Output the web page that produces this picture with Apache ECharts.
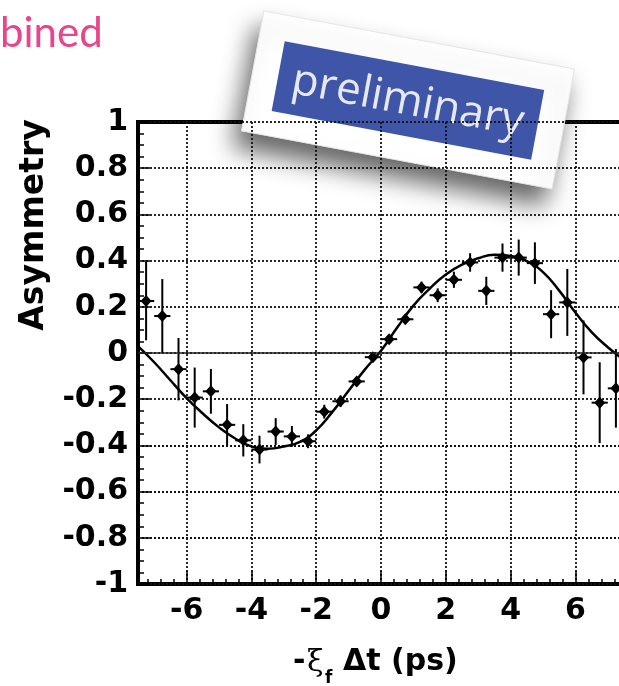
<!DOCTYPE html>
<html>
<head>
<meta charset="utf-8">
<script src="https://cdn.jsdelivr.net/npm/echarts@6/dist/echarts.min.js"></script>
<style>
html,body{margin:0;padding:0;background:#fff;}
#c{width:619px;height:686px;}
</style>
</head>
<body>
<div id="c"></div>
<script>
// ---- data ----
var binCenters = [-7.25,-6.75,-6.25,-5.75,-5.25,-4.75,-4.25,-3.75,-3.25,-2.75,-2.25,-1.75,-1.25,-0.75,-0.25,
                  0.25,0.75,1.25,1.75,2.25,2.75,3.25,3.75,4.25,4.75,5.25,5.75,6.25,6.75,7.25];
var asymValues = [0.225,0.16,-0.07,-0.193,-0.166,-0.311,-0.378,-0.418,-0.34,-0.361,-0.382,-0.254,-0.209,-0.123,-0.018,
                  0.06,0.146,0.284,0.25,0.317,0.392,0.269,0.413,0.413,0.389,0.168,0.219,-0.019,-0.215,-0.153];
var asymErrors = [0.17,0.16,0.135,0.13,0.097,0.09,0.07,0.06,0.058,0.045,0.03,0.03,0.025,0.02,0.02,
                  0.02,0.02,0.025,0.03,0.035,0.04,0.061,0.061,0.078,0.09,0.104,0.145,0.16,0.175,0.17];
var binHalfWidth = 0.25;
var fitX = [-7.5,-7,-6.5,-6,-5.5,-5,-4.5,-4,-3.5,-3,-2.5,-2,-1.5,-1,-0.5,0,0.5,1,1.5,2,2.5,3,3.5,4,4.5,5,5.5,6,6.5,7,7.5];
var fitY = [0.03,-0.04,-0.118,-0.195,-0.262,-0.322,-0.37,-0.404,-0.414,-0.405,-0.385,-0.335,-0.255,-0.163,-0.072,0.01,
            0.11,0.205,0.278,0.34,0.383,0.41,0.425,0.42,0.398,0.35,0.27,0.175,0.09,0.025,-0.03];
var xMajorTicks = [-6,-4,-2,0,2,4,6];
var xMinorTicks = [];
(function(){
  for (var m = -8; m <= 8; m += 2) {
    for (var k = 1; k <= 4; k++) {
      var v = Math.round((m + 0.4 * k) * 10) / 10;
      if (v > -7.5 && v < 7.5) xMinorTicks.push(v);
    }
  }
})();

var pointData = binCenters.map(function(x, i){ return [x, asymValues[i], asymErrors[i]]; });
var fitData = fitX.map(function(x, i){ return [x, fitY[i]]; });

var FONT = 'DejaVu Sans';

var chart = echarts.init(document.getElementById('c'), null, {renderer:'canvas'});
chart.setOption({
  animation:false,
  backgroundColor:'#fff',
  grid:{left:138, top:122, width:486, height:462, show:true, borderColor:'#000', borderWidth:4,
        backgroundColor:'transparent', containLabel:false, outerBoundsMode:'none'},
  xAxis:[{
    type:'value', min:-7.5, max:7.5, position:'bottom',
    axisLine:{show:false, onZero:false},
    axisTick:{show:true, inside:true, length:13, customValues:xMajorTicks, lineStyle:{color:'#000', width:1.5}},
    axisLabel:{show:true, customValues:xMajorTicks, margin:12, fontFamily:FONT, fontWeight:'bold', fontSize:30, color:'#000'},
    splitLine:{show:true, lineStyle:{color:'#111', width:1.8, type:[2,2]}}
  },{
    type:'value', min:-7.5, max:7.5, position:'bottom',
    axisLine:{show:false, onZero:false},
    axisTick:{show:true, inside:true, length:5, customValues:xMinorTicks, lineStyle:{color:'#000', width:1.5}},
    axisLabel:{show:false},
    splitLine:{show:false}
  }],
  yAxis:{
    type:'value', min:-1, max:1, interval:0.2, position:'left',
    axisLine:{show:false, onZero:false},
    axisTick:{show:true, inside:true, length:12, lineStyle:{color:'#000', width:1.5}},
    minorTick:{show:true, splitNumber:4, length:6, lineStyle:{color:'#000', width:1.5}},
    axisLabel:{margin:10, fontFamily:FONT, fontWeight:'bold', fontSize:30, color:'#000',
      formatter:function(v){ return String(Math.round(v*10)/10); }},
    splitLine:{show:true, lineStyle:{color:'#111', width:1.8, type:[2,2]}}
  },
  series:[{
    type:'line', data:fitData, smooth:0.5, showSymbol:false, symbol:'none',
    lineStyle:{color:'#000', width:2.5}, z:3,
    markLine:{silent:true, symbol:'none', label:{show:false}, animation:false,
      lineStyle:{color:'#222', type:'solid', width:1.6}, data:[{yAxis:0}]}
  },{
    type:'custom', data:pointData, z:4,
    renderItem:function(params, api){
      var x = api.value(0), y = api.value(1), e = api.value(2);
      var c = api.coord([x, y]);
      var t = api.coord([x, y + e]), b = api.coord([x, y - e]);
      var l = api.coord([x - binHalfWidth, y]), r = api.coord([x + binHalfWidth, y]);
      return {type:'group', children:[
        {type:'line', shape:{x1:t[0], y1:t[1], x2:b[0], y2:b[1]}, style:{stroke:'#000', lineWidth:2}},
        {type:'line', shape:{x1:l[0], y1:l[1], x2:r[0], y2:r[1]}, style:{stroke:'#000', lineWidth:2}},
        {type:'polygon', shape:{points:[[c[0], c[1]-6],[c[0]+5.5, c[1]],[c[0], c[1]+6],[c[0]-5.5, c[1]]]},
         style:{fill:'#000'}}
      ]};
    }
  }],
  graphic:[
    {type:'text', left:0, top:12, z:10, style:{text:'bined', fontFamily:'Lato', fontSize:42, fill:'#e8458b'}},
    {type:'text', x:34, y:225, rotation:Math.PI/2, z:10,
     style:{text:'Asymmetry', fontFamily:FONT, fontWeight:'bold', fontSize:33, fill:'#000', align:'center', verticalAlign:'middle'}},
    {type:'text', x:293, y:662, z:10, style:{text:'-', fontFamily:FONT, fontWeight:'bold', fontSize:30, fill:'#000', verticalAlign:'middle'}},
    {type:'text', x:307, y:663, z:10, style:{text:'ξ', fontFamily:'DejaVu Serif', fontSize:30, fill:'#000', verticalAlign:'middle'}},
    {type:'text', x:325, y:679, z:10, style:{text:'f', fontFamily:FONT, fontWeight:'bold', fontSize:17, fill:'#000', verticalAlign:'middle'}},
    {type:'text', x:343, y:662, z:10, style:{text:'Δt (ps)', fontFamily:FONT, fontWeight:'bold', fontSize:30, fill:'#000', verticalAlign:'middle'}},
    {type:'group', x:408, y:100, rotation:-0.185, z:20, children:[
      {type:'rect', shape:{x:-158, y:-61, width:316, height:122},
       style:{fill:'#ffffff', stroke:'#e4e4e4', lineWidth:1, shadowBlur:24, shadowOffsetX:-8, shadowOffsetY:16, shadowColor:'rgba(0,0,0,0.6)'}},
      {type:'rect', shape:{x:-132, y:-35, width:264, height:71}, style:{fill:'#3f55a7'}},
      {type:'text', x:0, y:2, style:{text:'preliminary', fontFamily:'Open Sans', fontSize:44, fill:'#e6e9f4', align:'center', verticalAlign:'middle'}}
    ]}
  ]
});
</script>
</body>
</html>
